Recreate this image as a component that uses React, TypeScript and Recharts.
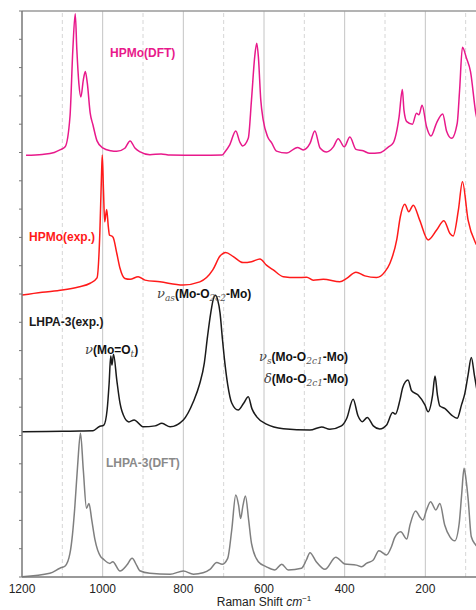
import React from "react";
import { LineChart, Line, XAxis, YAxis, ReferenceLine } from "recharts";

// Raman shift (cm^-1) and intensity above each trace's own baseline (a.u.)
const W_HPMO_DFT = [1190, 1150, 1120, 1106, 1093, 1081, 1074, 1068, 1064, 1059, 1054, 1048, 1043, 1038, 1031, 1024, 1014, 1000, 980, 965, 945, 932, 920, 907, 883, 855, 833, 760, 704, 697, 685, 670, 660, 653, 639, 631, 623, 618, 614, 608, 602, 591, 581, 569, 544, 517, 503, 486, 474, 461, 445, 428, 416, 401, 387, 372, 354, 338, 313, 292, 280, 265, 257, 253, 246, 232, 222, 216, 208, 197, 186, 172, 157, 147, 135, 121, 115, 108, 98, 88, 75, 60, 50];
const I_HPMO_DFT = [0, 0.03, 0.1, 0.19, 0.3, 1.37, 3.72, 5.0, 3.72, 2.54, 2.06, 2.66, 2.96, 2.54, 1.5, 1.07, 0.51, 0.26, 0.16, 0.14, 0.25, 0.51, 0.26, 0.12, 0.02, 0.05, 0.01, 0, 0.01, 0.12, 0.37, 0.86, 0.47, 0.33, 0.6, 1.96, 3.49, 3.96, 3.49, 1.96, 1.25, 0.66, 0.44, 0.15, 0.08, 0.28, 0.19, 0.42, 0.86, 0.26, 0.12, 0.3, 0.59, 0.3, 0.65, 0.21, 0.16, 0.07, 0.09, 0.29, 0.43, 1.37, 2.33, 1.6, 1.19, 1.1, 1.49, 1.43, 1.77, 1.01, 0.68, 1.15, 1.46, 0.84, 0.6, 1.13, 2.31, 3.82, 3.43, 2.96, 1.5, 0.8, 0.5];

const W_HPMO_EXP = [1200, 1150, 1100, 1060, 1031, 1014, 1007, 1003, 1001, 998, 995, 990, 986, 983, 978, 974, 965, 957, 945, 932, 912, 895, 858, 801, 759, 727, 709, 695, 676, 652, 631, 610, 594, 577, 552, 520, 494, 478, 453, 412, 395, 372, 350, 321, 300, 288, 271, 262, 251, 241, 230, 214, 193, 172, 154, 139, 131, 118, 108, 94, 75, 60, 50];
const I_HPMO_EXP = [-0.04, 0.06, 0.14, 0.25, 0.38, 0.57, 2.16, 4.14, 4.91, 3.67, 2.55, 2.99, 2.38, 2.08, 2.05, 2.0, 1.44, 0.91, 0.55, 0.52, 0.61, 0.49, 0.43, 0.32, 0.43, 0.85, 1.34, 1.47, 1.32, 1.11, 1.14, 1.24, 1.02, 0.85, 0.61, 0.58, 0.59, 0.49, 0.52, 0.43, 0.55, 0.77, 0.64, 0.58, 0.79, 1.08, 1.91, 2.73, 3.17, 2.91, 3.14, 2.61, 1.91, 2.26, 2.59, 2.14, 2.05, 2.97, 3.97, 2.61, 1.79, 1.5, 1.3];

const W_LHPA_EXP = [1200, 1100, 1056, 1024, 1009, 997, 989, 984, 980, 977, 973, 965, 957, 945, 935, 922, 900, 870, 853, 833, 800, 775, 760, 748, 740, 732, 726, 721, 715, 709, 703, 697, 690, 680, 664, 650, 639, 630, 618, 594, 552, 486, 457, 437, 408, 395, 379, 367, 356, 344, 329, 313, 296, 281, 274, 263, 256, 243, 234, 218, 201, 193, 182, 176, 170, 164, 152, 135, 121, 110, 102, 94, 86, 78, 65, 50];
const I_LHPA_EXP = [0.03, 0.05, 0.06, 0.07, 0.21, 0.27, 0.8, 1.74, 2.71, 2.39, 2.77, 1.86, 1.04, 0.51, 0.38, 0.45, 0.21, 0.24, 0.33, 0.21, 0.45, 1.1, 1.7, 2.46, 3.4, 4.23, 4.7, 4.86, 4.7, 4.23, 3.3, 2.46, 1.7, 1.05, 0.8, 1.05, 1.27, 0.85, 0.56, 0.3, 0.14, 0.09, 0.2, 0.12, 0.24, 0.5, 1.18, 0.6, 0.39, 0.54, 0.24, 0.13, 0.27, 0.71, 0.66, 1.15, 1.6, 1.86, 1.48, 1.33, 0.98, 0.74, 1.33, 2.0, 1.33, 0.94, 0.86, 0.62, 0.51, 1.0, 1.39, 2.04, 2.66, 2.0, 1.0, 0.6];

const W_LHPA_DFT = [1200, 1131, 1106, 1093, 1081, 1075, 1069, 1062, 1055, 1048, 1040, 1034, 1027, 1019, 1005, 999, 982, 975, 957, 940, 927, 915, 908, 883, 833, 800, 775, 751, 734, 717, 704, 690, 680, 670, 663, 658, 652, 646, 638, 631, 614, 594, 573, 556, 540, 507, 495, 486, 470, 449, 422, 400, 371, 358, 346, 329, 315, 296, 284, 276, 261, 246, 238, 224, 214, 206, 197, 187, 174, 164, 152, 139, 127, 116, 110, 104, 99, 94, 86, 75, 60, 50];
const I_LHPA_DFT = [0.01, 0.13, 0.31, 0.39, 0.84, 1.48, 2.48, 3.96, 5.08, 3.78, 2.43, 2.6, 2.01, 1.31, 0.72, 0.64, 0.48, 0.54, 0.21, 0.42, 0.66, 0.39, 0.22, 0.13, 0.1, 0.21, 0.1, 0.15, 0.27, 0.51, 0.45, 0.66, 1.66, 2.9, 2.54, 2.07, 2.54, 2.86, 2.01, 1.19, 0.54, 0.36, 0.25, 0.45, 0.25, 0.31, 0.6, 0.86, 0.53, 0.27, 0.7, 0.46, 0.42, 0.36, 0.48, 0.6, 0.93, 0.78, 1.07, 1.39, 1.6, 1.34, 1.84, 2.33, 2.13, 2.01, 2.37, 2.66, 2.37, 2.6, 1.84, 1.42, 1.28, 1.9, 2.9, 3.84, 3.43, 2.78, 1.42, 1.13, 0.9, 0.7];

// vertical stacking offsets of the four traces
const OFFSETS = [14.9, 10, 5.1, 0];
const X_TICKS = [1200, 1000, 800, 600, 400, 200];
const MAJOR_GRID = [1000, 800, 600, 400, 200];
const MINOR_GRID = [1100, 900, 700, 500, 300, 100];
const Y_TICKS = Array.from({ length: 21 }, (_, i) => i);

const COLORS = ["#e8198b", "#ff1a1a", "#1a1a1a", "#7f7f7f"];
const SANS = "'Liberation Sans', Arial, Helvetica, sans-serif";
const SERIF = "'DejaVu Serif', 'Liberation Serif', serif";

const build = (w: number[], v: number[], off: number) =>
  w.map((x, i) => ({ w: x, v: v[i] + off }));

const traces = [
  build(W_HPMO_DFT, I_HPMO_DFT, OFFSETS[0]),
  build(W_HPMO_EXP, I_HPMO_EXP, OFFSETS[1]),
  build(W_LHPA_EXP, I_LHPA_EXP, OFFSETS[2]),
  build(W_LHPA_DFT, I_LHPA_DFT, OFFSETS[3]),
];

function Nu({ x, y, sub, label, sym = "ν" }: { x: number; y: number; sub: string; label: [string, string, string]; sym?: string }) {
  // label: text before O subscript, O subscript, text after
  return (
    <text x={x} y={y} fontFamily={SANS} fontSize={12} fontWeight="bold" fill="#111">
      <tspan fontFamily={SERIF} fontStyle="italic" fontWeight="normal" fontSize={13} fill="#444">{sym}</tspan>
      {sub && (
        <tspan fontFamily={SERIF} fontStyle="italic" fontWeight="normal" fontSize={9} fill="#555" dy={3}>{sub}</tspan>
      )}
      <tspan dy={sub ? -3 : 0}>{label[0]}</tspan>
      <tspan fontFamily={SERIF} fontStyle="italic" fontWeight="normal" fontSize={9} fill="#555" dy={3}>{label[1]}</tspan>
      <tspan dy={-3}>{label[2]}</tspan>
    </text>
  );
}

export default function App() {
  return (
    <div style={{ position: "fixed", left: 0, top: 0, width: 476, height: 610, overflow: "hidden", background: "#fff" }}>
      <LineChart width={530} height={610} margin={{ top: 11, right: 24, left: 2, bottom: 0 }}>
        {MINOR_GRID.map((g) => (
          <ReferenceLine key={"m" + g} x={g} stroke="#d6d6d6" strokeDasharray="4 3" />
        ))}
        {MAJOR_GRID.map((g) => (
          <ReferenceLine key={"M" + g} x={g} stroke="#c4c4c4" />
        ))}
        <ReferenceLine y={20} stroke="#9a9a9a" strokeWidth={1.5} />
        <XAxis
          type="number"
          dataKey="w"
          domain={[0, 1200]}
          reversed
          allowDataOverflow
          ticks={X_TICKS}
          tickLine={false}
          tickSize={5}
          tickMargin={2}
          height={33}
          axisLine={{ stroke: "#777", strokeWidth: 1.5 }}
          tick={{ fontFamily: SANS, fontSize: 12, fill: "#222" }}
        />
        <YAxis
          type="number"
          domain={[0, 20]}
          ticks={Y_TICKS}
          width={20}
          tickSize={3}
          tickFormatter={() => ""}
          axisLine={{ stroke: "#777", strokeWidth: 1.5 }}
          tickLine={{ stroke: "#777" }}
        />
        {traces.map((d, i) => (
          <Line
            key={i}
            data={d}
            dataKey="v"
            type="monotone"
            stroke={COLORS[i]}
            strokeWidth={1.5}
            dot={false}
            isAnimationActive={false}
          />
        ))}
      </LineChart>
      <svg width={476} height={610} style={{ position: "absolute", left: 0, top: 0, pointerEvents: "none" }}>
        <g fontFamily={SANS} fontSize={12} fontWeight="bold">
          <text x={110} y={57} fill={COLORS[0]}>HPMo(DFT)</text>
          <text x={29} y={241} fill={COLORS[1]}>HPMo(exp.)</text>
          <text x={29} y={326} fill={COLORS[2]}>LHPA-3(exp.)</text>
          <text x={106} y={467} fill="#8a8a8a">LHPA-3(DFT)</text>
        </g>
        <Nu x={85} y={354} sub="" label={["(Mo=O", "t", ")"]} />
        <Nu x={157} y={298} sub="as" label={["(Mo-O", "2c2", "-Mo)"]} />
        <Nu x={259} y={361} sub="s" label={["(Mo-O", "2c1", "-Mo)"]} />
        <Nu x={264} y={383} sub="" sym="δ" label={["(Mo-O", "2c1", "-Mo)"]} />
        <text x={264} y={606} textAnchor="middle" fontFamily={SANS} fontSize={12} fill="#222">
          Raman Shift <tspan fontStyle="italic">cm</tspan>
          <tspan fontSize={8} dy={-5}>−1</tspan>
        </text>
      </svg>
    </div>
  );
}
